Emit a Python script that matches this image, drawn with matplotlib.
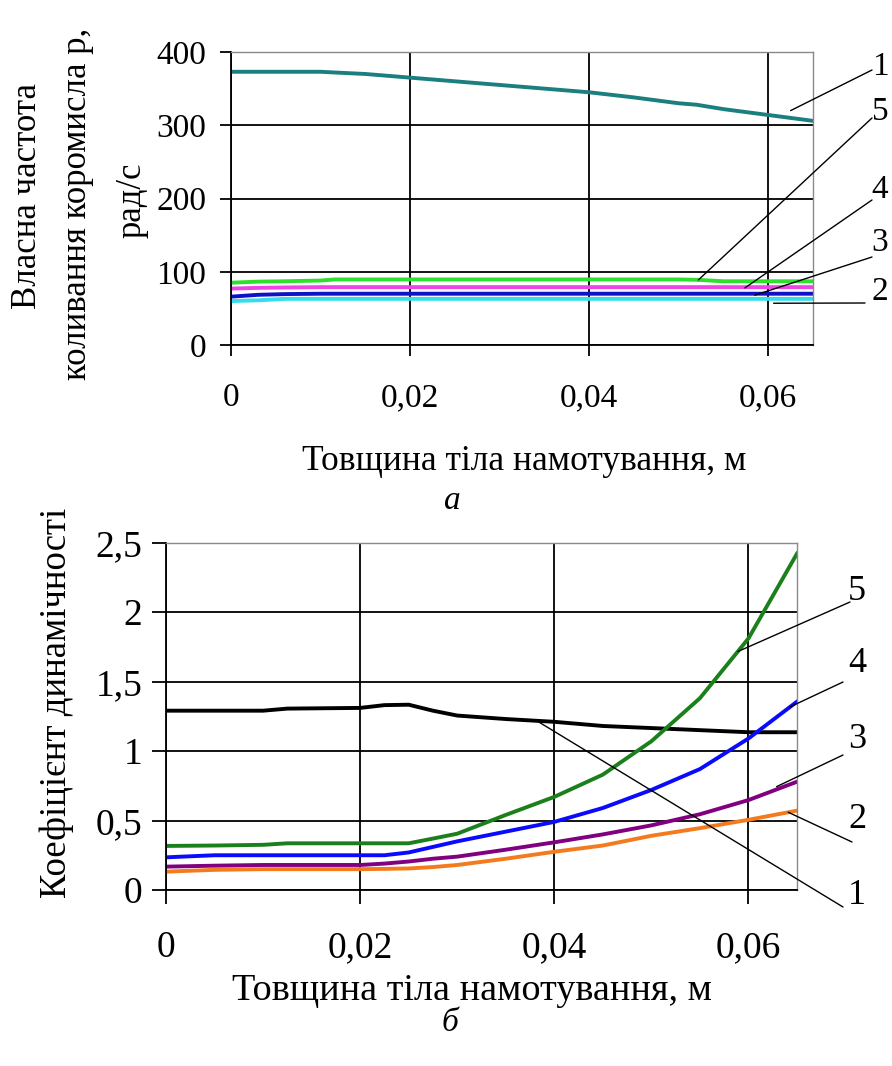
import numpy as np
import matplotlib
matplotlib.use("Agg")
import matplotlib.pyplot as plt

plt.rcParams['font.family'] = ['Liberation Serif', 'DejaVu Serif']

"""
Data (read from the picture)
"""
x_top = [0, 0.003, 0.006, 0.01, 0.0116, 0.015, 0.02, 0.025, 0.03, 0.035, 0.04,
         0.045, 0.05, 0.052, 0.055, 0.06, 0.065]
p1 = [373, 373, 373, 373, 372, 370, 365, 360, 355, 350, 345, 338, 330, 328, 322, 314, 306]
p2 = [60, 61, 63, 63, 63, 63, 63, 63, 63, 63, 63, 63, 63, 63, 63, 63, 63]
p3 = [66, 68.5, 69.5, 70, 70, 70, 70, 70, 70, 70, 70, 70, 70, 70, 70, 70, 70]
p4 = [77, 78, 78.5, 79, 79, 79, 79, 79, 79, 79, 79, 79, 79, 79, 79, 79, 79]
p5 = [85, 86.5, 87, 88, 89.5, 89.5, 89.5, 89.5, 89.5, 89.5, 89.5, 89.5, 89.5, 89, 87, 87, 87]

x_bot = [0, 0.005, 0.01, 0.0125, 0.02, 0.0225, 0.025, 0.0275, 0.03, 0.035, 0.04,
         0.045, 0.05, 0.055, 0.06, 0.065]
k1 = [1.29, 1.29, 1.29, 1.305, 1.31, 1.33, 1.333, 1.29, 1.255, 1.23, 1.21, 1.18, 1.165, 1.15, 1.135, 1.135]
k2 = [0.132, 0.145, 0.15, 0.15, 0.15, 0.152, 0.155, 0.165, 0.18, 0.225, 0.275, 0.32, 0.39, 0.445, 0.505, 0.571]
k3 = [0.168, 0.175, 0.18, 0.18, 0.18, 0.19, 0.205, 0.225, 0.24, 0.29, 0.343, 0.40, 0.465, 0.545, 0.647, 0.779]
k4 = [0.235, 0.25, 0.25, 0.25, 0.25, 0.25, 0.27, 0.31, 0.35, 0.42, 0.49, 0.59, 0.72, 0.87, 1.09, 1.355]
k5 = [0.317, 0.32, 0.325, 0.336, 0.336, 0.336, 0.336, 0.37, 0.405, 0.54, 0.67, 0.83, 1.07, 1.38, 1.81, 2.42]

x_ticks = [0, 0.02, 0.04, 0.06]
x_ticklabels = ['0', '0,02', '0,04', '0,06']
y_top_ticks = [0, 100, 200, 300, 400]
y_bot_ticks = [0, 0.5, 1, 1.5, 2, 2.5]
y_bot_ticklabels = ['0', '0,5', '1', '1,5', '2', '2,5']

top_series = [('1', p1, '#1b7f80'), ('2', p2, '#35dcec'), ('3', p3, '#1010c8'),
              ('4', p4, '#ee44e6'), ('5', p5, '#2ee02e')]
bot_series = [('1', k1, '#000000'), ('2', k2, '#f47a1e'), ('3', k3, '#800080'),
              ('4', k4, '#0a0aff'), ('5', k5, '#1b801b')]

W, H = 892, 1066
fig = plt.figure(figsize=(W / 100, H / 100), dpi=100)


def box(l, t, r, b):
    return [l / W, 1 - b / H, (r - l) / W, (b - t) / H]


def style(ax, ticklen, ypad, xpad, size):
    ax.grid(True, color='black', lw=1.3)
    ax.set_axisbelow(True)
    for s in ['top', 'right']:
        ax.spines[s].set_color('#8a8a8a')
        ax.spines[s].set_linewidth(1.0)
    for s in ['left', 'bottom']:
        ax.spines[s].set_color('black')
        ax.spines[s].set_linewidth(1.3)
    ax.tick_params(axis='both', direction='out', length=ticklen, width=1.3,
                   labelsize=size)
    ax.tick_params(axis='y', pad=ypad)
    ax.tick_params(axis='x', pad=xpad)


"""
а) natural frequency
"""
ax1 = fig.add_axes(box(231, 52, 813, 345))
for name, vals, col in top_series:
    ax1.plot(x_top, vals, color=col, lw=2.8)
ax1.set_xlim(0, 0.065)
ax1.set_ylim(0, 400)
ax1.set_xticks(x_ticks)
ax1.set_xticklabels(x_ticklabels)
ax1.set_yticks(y_top_ticks)
style(ax1, 8, 10, 19, 24)

top_leaders = [('1', p1, 0.0625, 10, (872, 70), (880, 67)),
               ('5', p5, 0.0522, 0, (872, 118), (880, 112)),
               ('4', p4, 0.0574, -1, (872, 200), (880, 190)),
               ('3', p3, 0.0585, -2, (872, 257), (880, 243)),
               ('2', p2, 0.0606, -6, (865, 303), (880, 292))]
for name, vals, xd, dy, start, lab in top_leaders:
    yd = np.interp(xd, x_top, vals) + dy
    ax1.annotate('', xy=(xd, yd), xycoords='data',
                 xytext=(start[0], H - start[1]), textcoords='figure pixels',
                 arrowprops=dict(arrowstyle='-', lw=1.0, color='black',
                                 shrinkA=0, shrinkB=0))
    fig.text(lab[0] / W, 1 - lab[1] / H, name, fontsize=24, ha='center', va='center')

fig.text(28 / W, 1 - 196 / H, 'Власна частота', rotation=90, fontsize=25,
         ha='center', va='center')
fig.text(78 / W, 1 - 204 / H, 'коливання коромисла р,', rotation=90, fontsize=25,
         ha='center', va='center')
fig.text(132 / W, 1 - 200 / H, 'рад/с', rotation=90, fontsize=25,
         ha='center', va='center')
fig.text(524 / W, 1 - 462 / H, 'Товщина тіла намотування, м', fontsize=25.5,
         ha='center', va='center')
fig.text(452 / W, 1 - 501 / H, 'а', fontsize=24, style='italic',
         ha='center', va='center')

"""
б) dynamic factor
"""
ax2 = fig.add_axes(box(166, 542.5, 797, 890))
for name, vals, col in bot_series:
    ax2.plot(x_bot, vals, color=col, lw=2.8)
ax2.set_xlim(0, 0.065)
ax2.set_ylim(0, 2.5)
ax2.set_xticks(x_ticks)
ax2.set_xticklabels(x_ticklabels)
ax2.set_yticks(y_bot_ticks)
ax2.set_yticklabels(y_bot_ticklabels)
style(ax2, 10, 7, 19, 27)

bot_leaders = [('5', k5, 0.0589, 0, (850, 602), (857, 592)),
               ('4', k4, 0.0643, 0, (843, 682), (857, 663)),
               ('3', k3, 0.0629, 0.02, (843, 755), (857, 740)),
               ('2', k2, 0.0641, 0, (852, 842), (857, 820)),
               ('1', k1, 0.0382, 0, (843, 907), (857, 895))]
for name, vals, xd, dy, start, lab in bot_leaders:
    yd = np.interp(xd, x_bot, vals) + dy
    ax2.annotate('', xy=(xd, yd), xycoords='data',
                 xytext=(start[0], H - start[1]), textcoords='figure pixels',
                 arrowprops=dict(arrowstyle='-', lw=1.0, color='black',
                                 shrinkA=0, shrinkB=0))
    fig.text(lab[0] / W, 1 - lab[1] / H, name, fontsize=26, ha='center', va='center')

fig.text(57 / W, 1 - 703 / H, 'Коефіцієнт динамічності', rotation=90, fontsize=26.5,
         ha='center', va='center')
fig.text(472 / W, 1 - 991 / H, 'Товщина тіла намотування, м', fontsize=27.5,
         ha='center', va='center')
fig.text(450 / W, 1 - 1023 / H, 'б', fontsize=24, style='italic',
         ha='center', va='center')

fig.savefig('out.png', dpi=100)
